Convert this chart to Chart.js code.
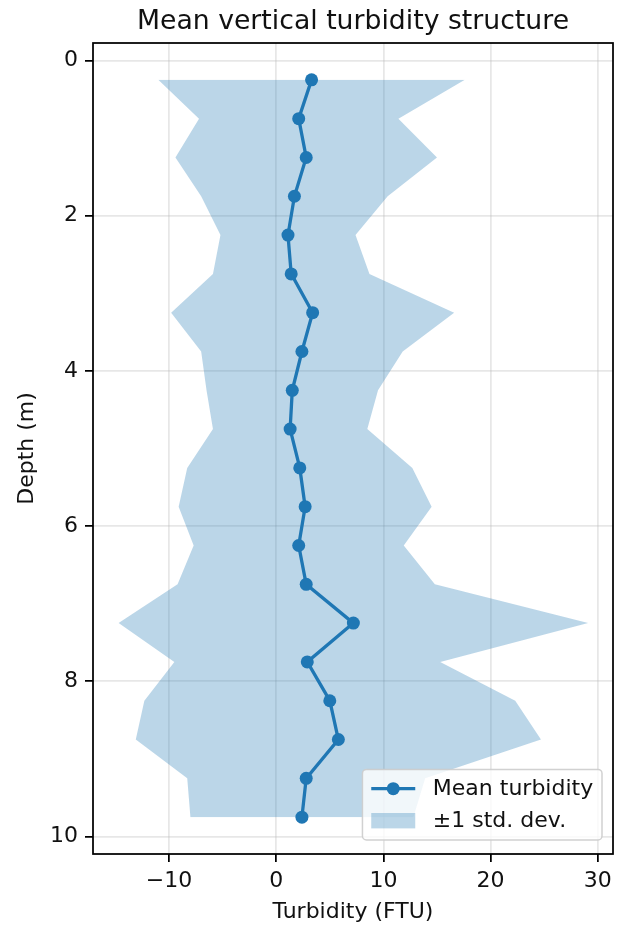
<!DOCTYPE html>
<html>
<head>
<meta charset="utf-8">
<script src="https://cdn.jsdelivr.net/npm/chart.js@4.4.1/dist/chart.umd.min.js"></script>
<style>
  html, body { margin: 0; padding: 0; background: #fff; }
</style>
</head>
<body>
<canvas id="chart" width="622" height="927"></canvas>
<script>
// depth bins (m) and the turbidity profile
const depths = [0.25, 0.75, 1.25, 1.75, 2.25, 2.75, 3.25, 3.75, 4.25, 4.75,
  5.25, 5.75, 6.25, 6.75, 7.25, 7.75, 8.25, 8.75, 9.25, 9.75];
const meanTurbidity = [3.3, 2.1, 2.8, 1.7, 1.1, 1.4, 3.4, 2.4, 1.5, 1.3,
  2.2, 2.7, 2.1, 2.8, 7.2, 2.9, 5.0, 5.8, 2.8, 2.4];
const stdTurbidity = [14.3, 9.3, 12.2, 8.7, 6.3, 7.3, 13.2, 9.4, 8.0, 7.2,
  10.5, 11.8, 9.8, 12.0, 21.9, 12.4, 17.3, 18.9, 11.1, 10.4];

const xTicks = [-10, 0, 10, 20, 30];
const yTicks = [0, 2, 4, 6, 8, 10];
const titleText = 'Mean vertical turbidity structure';
const xLabel = 'Turbidity (FTU)';
const yLabel = 'Depth (m)';
const seriesLabels = ['Mean turbidity', '±1 std. dev.'];

const blue = '#1f77b4';
const bandFill = 'rgba(31,119,180,0.3)';
const textColor = '#111';
const fontFamily = "'DejaVu Sans', sans-serif";

Chart.defaults.font.family = fontFamily;

const lowerEdge = depths.map((d, i) => ({x: meanTurbidity[i] - stdTurbidity[i], y: d}));
const upperEdge = depths.map((d, i) => ({x: meanTurbidity[i] + stdTurbidity[i], y: d}));
const meanLine = depths.map((d, i) => ({x: meanTurbidity[i], y: d}));

// frame, centred title and the legend box inside the axes
const overlayPlugin = {
  id: 'overlay',
  afterDraw(chart) {
    const {ctx, chartArea: a} = chart;
    const fs = 22;
    ctx.save();

    ctx.strokeStyle = '#000';
    ctx.lineWidth = 1.75;
    ctx.strokeRect(a.left, a.top, a.right - a.left, a.bottom - a.top);

    ctx.fillStyle = textColor;
    ctx.font = '26.7px ' + fontFamily;
    ctx.textAlign = 'center';
    ctx.textBaseline = 'alphabetic';
    ctx.fillText(titleText, (a.left + a.right) / 2, 29);

    ctx.font = fs + 'px ' + fontFamily;
    const textW = Math.max(...seriesLabels.map(t => ctx.measureText(t).width));
    const pad = 0.4 * fs, handleW = 2 * fs, gap = 0.8 * fs, rowH = 21, spacing = 0.5 * fs;
    const w = pad * 2 + handleW + gap + textW;
    const h = pad * 2 + rowH * 2 + spacing;
    const x0 = a.right - 11 - w;
    const y0 = a.bottom - 14 - h;

    ctx.beginPath();
    ctx.roundRect(x0, y0, w, h, 4);
    ctx.fillStyle = 'rgba(255,255,255,0.8)';
    ctx.fill();
    ctx.strokeStyle = 'rgba(204,204,204,0.9)';
    ctx.lineWidth = 1.5;
    ctx.stroke();

    const hx = x0 + pad;
    const row1 = y0 + pad + rowH / 2;
    const row2 = row1 + rowH + spacing;

    ctx.strokeStyle = blue;
    ctx.lineWidth = 3.3;
    ctx.beginPath();
    ctx.moveTo(hx, row1);
    ctx.lineTo(hx + handleW, row1);
    ctx.stroke();
    ctx.fillStyle = blue;
    ctx.beginPath();
    ctx.arc(hx + handleW / 2, row1, 6.5, 0, Math.PI * 2);
    ctx.fill();

    ctx.fillStyle = bandFill;
    ctx.fillRect(hx, row2 - 0.35 * fs, handleW, 0.7 * fs);

    ctx.fillStyle = textColor;
    ctx.textAlign = 'left';
    ctx.textBaseline = 'middle';
    ctx.fillText(seriesLabels[0], hx + handleW + gap, row1 + 1);
    ctx.fillText(seriesLabels[1], hx + handleW + gap, row2 + 1);

    ctx.restore();
  }
};

const gridOpts = {
  color: 'rgba(176,176,176,0.3)',
  lineWidth: 1.75,
  tickColor: '#000',
  tickLength: 8,
  tickWidth: 1.75
};

new Chart(document.getElementById('chart'), {
  type: 'line',
  data: {
    datasets: [
      {
        label: seriesLabels[0],
        data: meanLine,
        borderColor: blue,
        backgroundColor: blue,
        borderWidth: 3.3,
        pointRadius: 6.5,
        pointBorderWidth: 0,
        pointBackgroundColor: blue,
        fill: false,
        order: 0
      },
      {
        label: 'lower',
        data: lowerEdge,
        borderColor: 'rgba(0,0,0,0)',
        borderWidth: 0,
        pointRadius: 0,
        backgroundColor: bandFill,
        fill: '+1',
        order: 1
      },
      {
        label: 'upper',
        data: upperEdge,
        borderColor: 'rgba(0,0,0,0)',
        borderWidth: 0,
        pointRadius: 0,
        fill: false,
        order: 2
      }
    ]
  },
  options: {
    indexAxis: 'y',
    responsive: false,
    animation: false,
    layout: {
      padding: {top: 43, right: 9, left: 0, bottom: 0}
    },
    plugins: {
      legend: {display: false},
      title: {display: false},
      tooltip: {enabled: false}
    },
    scales: {
      x: {
        type: 'linear',
        position: 'bottom',
        min: -17.09,
        max: 31.42,
        afterBuildTicks: (s) => { s.ticks = xTicks.map(v => ({value: v})); },
        afterFit: (s) => { s.height = 73; },
        grid: gridOpts,
        border: {display: false},
        ticks: {
          color: textColor,
          font: {size: 22},
          padding: 6,
          maxRotation: 0,
          callback: (v) => String(v).replace('-', '\u2212')
        },
        title: {
          display: true,
          text: xLabel,
          color: textColor,
          font: {size: 22},
          padding: {top: 0, bottom: 2}
        }
      },
      y: {
        type: 'linear',
        position: 'left',
        reverse: true,
        min: -0.225,
        max: 10.225,
        afterBuildTicks: (s) => { s.ticks = yTicks.map(v => ({value: v})); },
        afterFit: (s) => { s.width = 93; },
        grid: gridOpts,
        border: {display: false},
        ticks: {
          color: textColor,
          font: {size: 22},
          padding: 7
        },
        title: {
          display: true,
          text: yLabel,
          color: textColor,
          font: {size: 22},
          padding: {top: 14, bottom: 0}
        }
      }
    }
  },
  plugins: [overlayPlugin]
});
</script>
</body>
</html>
